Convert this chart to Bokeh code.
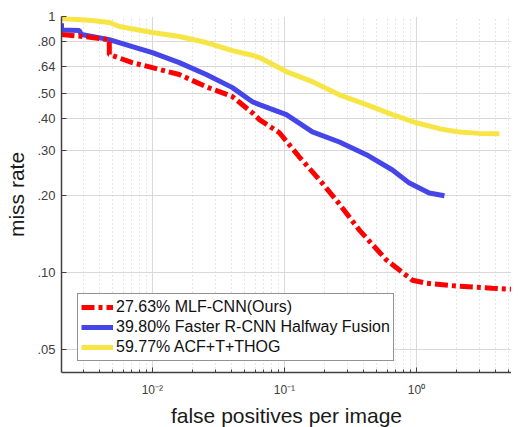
from bokeh.plotting import figure
from bokeh.models import FixedTicker, CustomJSTickFormatter, Legend, LegendItem, Range1d
from bokeh.embed import file_html
from bokeh.resources import INLINE

# ---- data (false positives per image vs miss rate) ----
yellow_fppi = [0.00205, 0.0035, 0.00472, 0.00562, 0.0075, 0.01, 0.016, 0.0256, 0.0404, 0.0572,
               0.0647, 0.1035, 0.163, 0.261, 0.418, 0.658, 1.0, 1.49, 2.12, 3.0, 4.25]
yellow_mr = [0.982, 0.965, 0.947, 0.914, 0.89, 0.866, 0.835, 0.791, 0.735, 0.705,
             0.691, 0.609, 0.556, 0.494, 0.452, 0.413, 0.384, 0.364, 0.353, 0.349, 0.348]

blue_fppi = [0.00205, 0.00205, 0.0028, 0.0029, 0.00472, 0.00705, 0.01, 0.016, 0.0256,
             0.0404, 0.0572, 0.0647, 0.1035, 0.163, 0.261, 0.418, 0.658, 0.885, 1.25, 1.63]
blue_mr = [0.94, 0.885, 0.881, 0.850, 0.812, 0.763, 0.722, 0.660, 0.593,
           0.527, 0.464, 0.452, 0.413, 0.354, 0.323, 0.288, 0.251, 0.223, 0.204, 0.199]

red_fppi = [0.00205, 0.0030, 0.00472, 0.00472, 0.00705, 0.01, 0.016, 0.0256, 0.0404,
            0.0572, 0.0647, 0.0917, 0.130, 0.184, 0.248, 0.370, 0.593, 0.933, 1.19,
            2.12, 3.76, 5.2]
red_mr = [0.850, 0.835, 0.812, 0.710, 0.660, 0.631, 0.593, 0.531, 0.486,
          0.420, 0.395, 0.351, 0.282, 0.230, 0.191, 0.146, 0.1115, 0.093, 0.0905,
          0.088, 0.0865, 0.0858]

labels = ["27.63% MLF-CNN(Ours)", "39.80% Faster R-CNN Halfway Fusion", "59.77% ACF+T+THOG"]

x_major = [0.01, 0.1, 1.0]
x_minor = [m * d for d in (0.001, 0.01, 0.1, 1.0) for m in range(2, 10)]
y_ticks = [0.05, 0.1, 0.2, 0.3, 0.4, 0.5, 0.64, 0.8, 1.0]
y_tick_labels = [".05", ".10", ".20", ".30", ".40", ".50", ".64", ".80", "1"]

FONT = "Liberation Sans"

p = figure(width=511, height=432, x_axis_type="log", y_axis_type="log",
           x_range=Range1d(0.00205, 5.25), y_range=Range1d(0.0405, 1.0),
           output_backend="svg", toolbar_location=None,
           min_border_left=61, min_border_right=0, min_border_top=16, min_border_bottom=60)

p.outline_line_color = None
p.background_fill_color = "white"

# axes
p.xaxis.ticker = FixedTicker(ticks=x_major, minor_ticks=x_minor)
p.xaxis.formatter = CustomJSTickFormatter(code="""
const e = Math.round(Math.log10(tick));
const sup = {"-":"\u207b","0":"\u2070","1":"\u00b9","2":"\u00b2","3":"\u00b3"};
return "10" + String(e).split("").map(c => sup[c]).join("");
""")
p.yaxis.ticker = FixedTicker(ticks=y_ticks, minor_ticks=[])
p.yaxis.formatter = CustomJSTickFormatter(args=dict(vals=y_ticks, labs=y_tick_labels), code="""
for (let i = 0; i < vals.length; i++) { if (Math.abs(vals[i] - tick) < 1e-6) return labs[i]; }
return "";
""")

for ax in (p.xaxis[0], p.yaxis[0]):
    ax.axis_line_color = "#404040"
    ax.axis_line_width = 1.5
    ax.major_tick_in = 5
    ax.major_tick_out = 0
    ax.minor_tick_in = 3
    ax.minor_tick_out = 0
    ax.major_tick_line_color = "#404040"
    ax.minor_tick_line_color = "#404040"
    ax.major_label_text_font = FONT
    ax.major_label_text_color = "#404040"
    ax.axis_label_text_font = FONT
    ax.axis_label_text_font_size = "21px"
    ax.axis_label_text_font_style = "normal"
    ax.axis_label_text_color = "#1a1a1a"

p.xaxis.major_label_text_font_size = "12px"
p.yaxis.major_label_text_font_size = "13px"
p.xaxis.axis_label = "false positives per image"
p.yaxis.axis_label = "miss rate"
p.xaxis.major_label_standoff = 10
p.yaxis.major_label_standoff = 6
p.xaxis.axis_label_standoff = 4
p.yaxis.axis_label_standoff = 6

# grids
p.xgrid.grid_line_color = "#d9d9d9"
p.xgrid.grid_line_width = 1
p.xgrid.minor_grid_line_color = "#cfcfcf"
p.xgrid.minor_grid_line_dash = "1 3"
p.ygrid.grid_line_color = "#d9d9d9"
p.ygrid.grid_line_width = 1

# curves
ry = p.line(yellow_fppi, yellow_mr, line_color="#f7e545", line_width=5)
rb = p.line(blue_fppi, blue_mr, line_color="#4646e8", line_width=5)
rr = p.line(red_fppi, red_mr, line_color="#ff0000", line_width=5, line_dash="13 4 4 4")

legend = Legend(items=[LegendItem(label=labels[0], renderers=[rr]),
                       LegendItem(label=labels[1], renderers=[rb]),
                       LegendItem(label=labels[2], renderers=[ry])],
                location=(16, 11))
legend.border_line_color = "#262626"
legend.border_line_width = 1.5
legend.background_fill_alpha = 1.0
legend.padding = 3
legend.spacing = 0
legend.margin = 0
legend.glyph_width = 32
legend.glyph_height = 20
legend.label_standoff = 3
legend.label_height = 20
legend.label_text_font = FONT
legend.label_text_font_size = "16px"
legend.label_text_color = "#111111"
p.add_layout(legend, "center")

open("out.html", "w").write(file_html(p, INLINE))
